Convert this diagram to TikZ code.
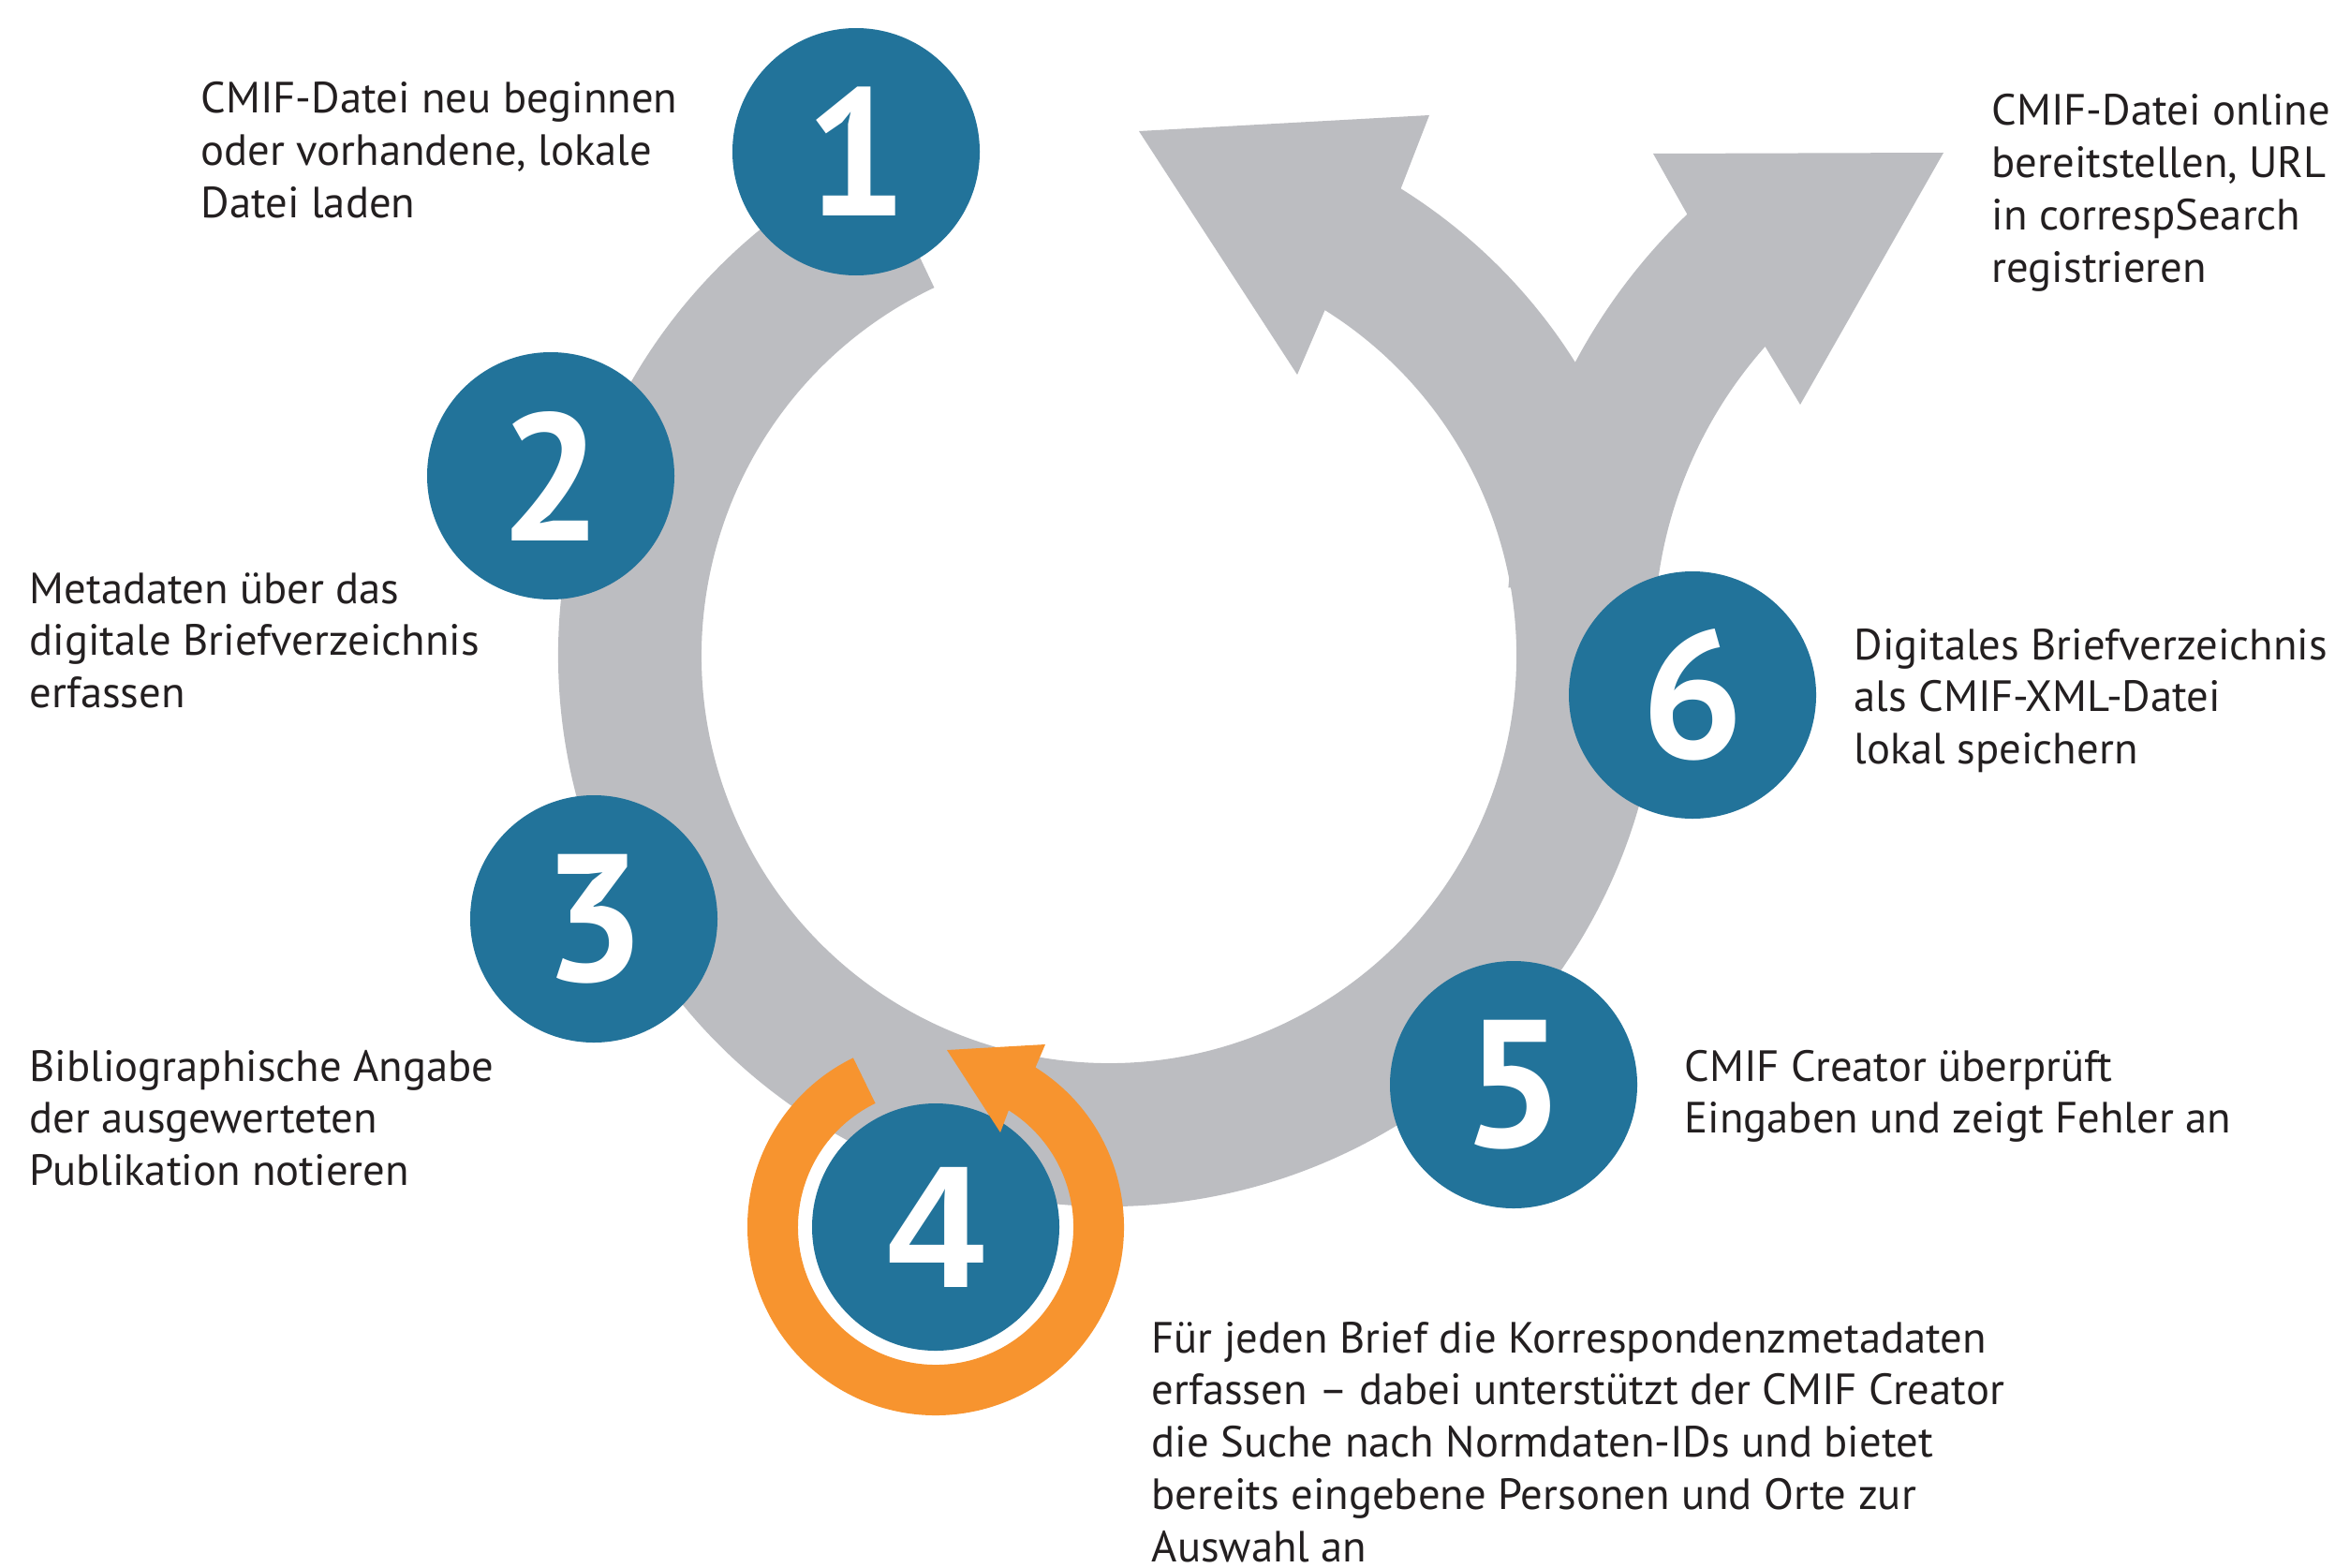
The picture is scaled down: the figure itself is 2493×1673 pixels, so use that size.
\documentclass[tikz,border=0pt]{standalone}
\usepackage{fontspec}
\setmainfont{PT Sans}
\newfontfamily\fourfont{Liberation Sans}
\usetikzlibrary{calc}

\definecolor{stepblue}{HTML}{22739A}
\definecolor{ringgray}{HTML}{BCBDC1}
\definecolor{looporange}{HTML}{F7942F}
\definecolor{bodytext}{HTML}{231F20}

% multi-line caption whose reference point is the first baseline
\newcommand{\captionlines}[1]{\begin{tabular}[t]{@{}l@{}}#1\end{tabular}}

\begin{document}
\begin{tikzpicture}[x=0.1mm,y=0.1mm,
  stepdot/.style={circle, fill=stepblue, minimum size=26.4mm, inner sep=0pt,
    text=white, font=\fontsize{55pt}{55pt}\selectfont\bfseries},
  steptext/.style={anchor=base west, inner sep=0pt, text=bodytext,
    font=\fontsize{13.27pt}{15.9pt}\selectfont}]

\useasboundingbox (0,0) rectangle (2493,-1673);
\fill[white] (0,0) rectangle (2493,-1673);

% main cycle: ring that ends in the arrow pointing back up-left
\coordinate (C) at (1184,-700);
\fill[ringgray]
  ($(C)+(115.4:435)$) arc[start angle=115.4, end angle=418, radius=435]
  -- (1385,-400) -- (1216,-140) -- (1526,-123)
  -- ($(C)+(58:588)$) arc[start angle=418, end angle=115.4, radius=588]
  -- cycle;

% branch leaving the ring towards the upper right
\coordinate (R) at (2236,-682);
\fill[ringgray]
  ($(R)+(175:470)$) arc[start angle=175, end angle=138.4, radius=470]
  -- (1922,-432) -- (2075,-163) -- (1765,-164)
  -- ($(R)+(133.8:628)$) arc[start angle=133.8, end angle=175, radius=628]
  -- cycle;

% numbered steps
\node[stepdot] (c1) at (914,-162) {1};
\node[stepdot] (c2) at (588,-508) {2};
\node[stepdot] (c3) at (634,-981) {3};
\node[stepdot, font=\fontsize{53pt}{53pt}\selectfont\fourfont\bfseries] (c4) at (999,-1310) {4};
\node[stepdot] (c5) at (1616,-1158) {5};
\node[stepdot] (c6) at (1807,-742) {6};

% repeat loop around step 4
\fill[looporange]
  ($(c4.center)+(116:147)$) arc[start angle=116, end angle=418, radius=147]
  -- (1068,-1209) -- (1011,-1121) -- (1116,-1115)
  -- ($(c4.center)+(58:201)$) arc[start angle=418, end angle=116, radius=201]
  -- cycle;

% descriptions
\node[steptext] (t1) at (214,-121) {\captionlines{CMIF-Datei neu beginnen\\oder vorhandene, lokale\\Datei laden}};
\node[steptext] (t2) at (31,-644) {\captionlines{Metadaten über das\\digitale Briefverzeichnis\\erfassen}};
\node[steptext] (t3) at (31,-1154) {\captionlines{Bibliographische Angabe\\der ausgewerteten\\Publikation notieren}};
\node[steptext] (t4) at (1229,-1444) {\captionlines{Für jeden Brief die Korrespondenzmetadaten\\erfassen – dabei unterstützt der CMIF Creator\\die Suche nach Normdaten-IDs und bietet\\bereits eingebene Personen und Orte zur\\Auswahl an}};
\node[steptext] (t5) at (1798,-1154) {\captionlines{CMIF Creator überprüft\\Eingaben und zeigt Fehler an}};
\node[steptext] (t6) at (1979,-704) {\captionlines{Digitales Briefverzeichnis\\als CMIF-XML-Datei\\lokal speichern}};
\node[steptext] (t7) at (2126,-134) {\captionlines{CMIF-Datei online\\bereitstellen, URL\\in correspSearch\\registrieren}};

\end{tikzpicture}
\end{document}
